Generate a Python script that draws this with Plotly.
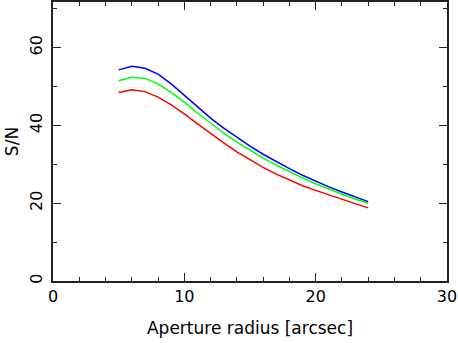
import plotly.graph_objects as go

radius = list(range(5, 25))
sn_blue = [54.3, 55.2, 54.7, 53.2, 50.7, 47.7, 44.7, 41.9, 39.3, 36.9, 34.7, 32.6, 30.7, 28.9, 27.2, 25.6, 24.2, 22.9, 21.6, 20.4]
sn_green = [51.5, 52.4, 52.1, 50.7, 48.5, 46.0, 43.2, 40.5, 38.0, 35.7, 33.6, 31.6, 29.8, 28.1, 26.5, 25.0, 23.6, 22.3, 21.1, 20.0]
sn_red = [48.5, 49.2, 48.7, 47.3, 45.3, 43.0, 40.4, 37.9, 35.5, 33.2, 31.1, 29.2, 27.5, 25.9, 24.5, 23.3, 22.1, 21.0, 19.9, 18.8]

fig = go.Figure()
for ys, col in [(sn_red, "#ff0000"), (sn_green, "#00ff00"), (sn_blue, "#0000ff")]:
    fig.add_trace(go.Scatter(x=radius, y=ys, mode="lines",
                             line=dict(color=col, width=1.5), showlegend=False))

font = dict(family="DejaVu Sans, sans-serif", size=16, color="black")
tfont = dict(family="DejaVu Sans, sans-serif", size=17, color="black")
axcommon = dict(showline=True, linecolor="#222222", linewidth=1.5, mirror="ticks",
                ticks="inside", ticklen=8, tickwidth=1.2, tickcolor="#222222",
                showgrid=False, zeroline=False, tickfont=font,
                automargin=False)
fig.update_xaxes(range=[0, 30], tickvals=[0, 10, 20, 30],
                 minor=dict(dtick=2, ticks="inside", ticklen=4, tickwidth=1.2, tickcolor="#222222"),
                 title=dict(text="Aperture radius [arcsec]", font=tfont, standoff=17),
                 **axcommon)
fig.update_yaxes(range=[0, 71.75], tickvals=[0, 20, 40, 60], tickangle=-90,
                 ticklabelstandoff=3,
                 minor=dict(dtick=10, ticks="inside", ticklen=4, tickwidth=1.2, tickcolor="#222222"),
                 title=dict(text="S/N", font=tfont, standoff=4),
                 **axcommon)
fig.update_layout(width=458, height=343, margin=dict(l=53, r=11, t=2, b=62),
                  plot_bgcolor="white", paper_bgcolor="white", font=font)
fig.write_html("out.html", config={"displayModeBar": False},
               post_script="document.body.style.margin='0';document.body.style.overflow='hidden';")
